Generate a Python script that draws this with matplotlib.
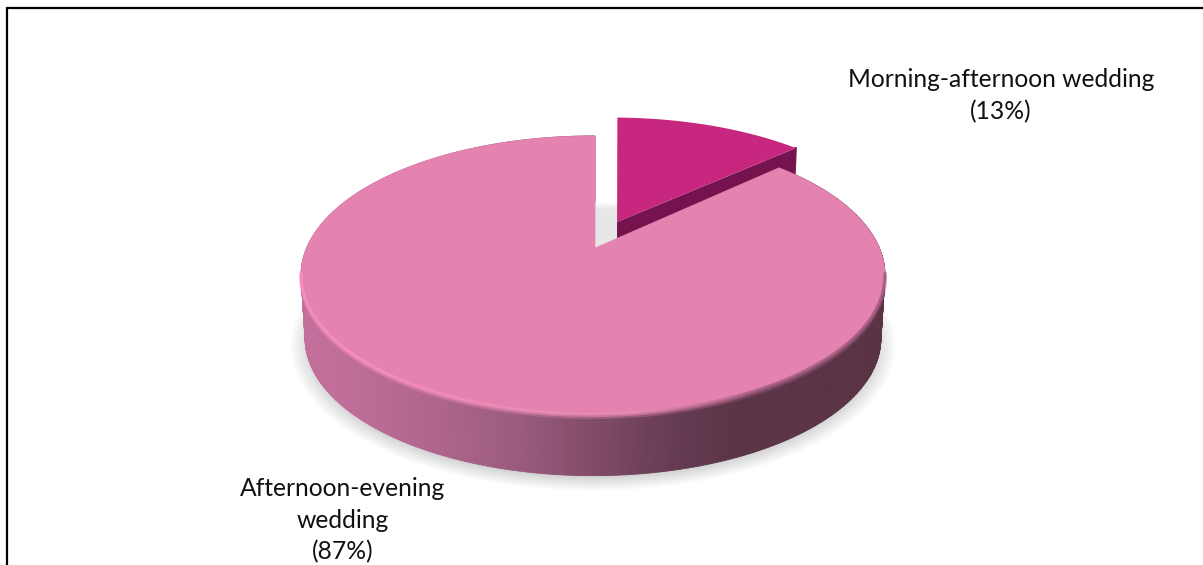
import matplotlib
matplotlib.use("Agg")
import matplotlib.pyplot as plt
from matplotlib.collections import PolyCollection, LineCollection
from matplotlib.colors import to_rgb
from matplotlib.patches import Rectangle
import numpy as np

# parts du diagramme, en %
labels = ["Morning-afternoon\u00a0wedding\n(13%)", "Afternoon-evening\nwedding\n(87%)"]
values = [13, 87]

plt.rcParams['font.family'] = ['Lato', 'DejaVu Sans']

W, H = 1203, 565
fig = plt.figure(figsize=(W/100, H/100), dpi=100)
ax = fig.add_axes([0, 0, 1, 1])
ax.set_xlim(0, W)
ax.set_ylim(H, 0)
ax.axis('off')

# perspective du disque, en pixels
CX, CY = 593, 248
A, B, K = 286.4, 133.8, 0.194
# plan du bas de la tranche
S_BAS, CY_BAS = 0.986, 312
ROT = 0.5       # petit decalage de depart, en degres
ROT_T = 1.0     # idem pour la tranche detachee
EXPLO = 0.22    # ecart de la tranche detachee


def projeter(u, v, s=1.0, cy=CY, cx=CX):
    w = 1 + K*v
    return cx + s*A*u/w, cy - s*B*v/w


def arc(deb, fin, n=200):
    # angles en degres, sens horaire depuis le haut
    t = np.radians(np.linspace(deb, fin, n))
    return np.sin(t), np.cos(t)


def secteur(deb, fin, du=0.0, dv=0.0, apex_dx=0.0):
    u, v = arc(deb, fin)
    x, y = projeter(u+du, v+dv)
    xa, ya = projeter(du, dv)
    return np.column_stack([np.r_[xa+apex_dx, x], np.r_[ya, y]])


def melange(c1, c2, f):
    c1, c2 = np.array(to_rgb(c1)), np.array(to_rgb(c2))
    return c1 + (c2-c1)*f


ang = values[0]*3.6
bis = np.radians(ang/2)
du, dv = EXPLO*np.sin(bis), EXPLO*np.cos(bis)

# ombre portee : tres legere partout, plus marquee sous le disque
bas = Rectangle((0, 262), W, H, transform=ax.transData)
u, v = arc(0, 360, 300)
for i in range(24):
    f = i/23
    sc = 1.05 - 0.075*f
    x, y = projeter(u*sc, v*sc, S_BAS, CY_BAS+5)
    ax.fill(x, y, color='#000000', alpha=0.003, lw=0, zorder=1)
    p = ax.fill(x, y, color='#000000', alpha=0.004, lw=0, zorder=1)[0]
    p.set_clip_path(bas)

# tranche detachee : paroi puis dessus
a_t = ang + ROT_T
xh, yh = projeter(np.sin(np.radians(a_t))+du, np.cos(np.radians(a_t))+dv)
xa, ya = projeter(du, dv)
xb, yb = projeter(np.sin(np.radians(a_t))+du, np.cos(np.radians(a_t))+dv, S_BAS, CY_BAS)
xc, yc = projeter(du, dv, S_BAS, CY_BAS)
ax.fill([xa, xh, xb, xc], [ya, yh, yb, yc], color='#75134f', lw=0, zorder=2)
ax.plot([xh, xb], [yh, yb], color='#7d1655', lw=1.5, zorder=2)
ax.add_patch(plt.Polygon(secteur(ROT_T, a_t, du, dv), closed=True, fc='#c7277e', ec='none', zorder=3))

# paroi du grand secteur, degrade de gauche a droite
pos = [302, 340, 430, 520, 600, 680, 740, 890]
cols = ['#c2709b', '#c06e99', '#b0668c', '#995b7d', '#7f4a65', '#643a50', '#5b3446', '#5a3345']
t = np.linspace(ang+ROT, 360+ROT, 500)
uu, vv = np.sin(np.radians(t)), np.cos(np.radians(t))
xh, yh = projeter(uu, vv)
xb, yb = projeter(uu, vv, S_BAS, CY_BAS)
quads, fc = [], []
for i in range(len(t)-1):
    quads.append([(xh[i], yh[i]), (xh[i+1], yh[i+1]), (xb[i+1], yb[i+1]), (xb[i], yb[i])])
    xm = (xh[i]+xh[i+1])/2
    fc.append([np.interp(xm, pos, [to_rgb(c)[k] for c in cols]) for k in range(3)])
ax.add_collection(PolyCollection(quads, facecolors=fc, edgecolors=fc, linewidths=0.6, zorder=4))

# dessus du grand secteur
DESSUS = '#e583b0'
forme = secteur(ang+ROT, 360+ROT, apex_dx=2)

# biseau du bord : clair a gauche, fondu sombre a droite
segs, lum = [], []
for i in range(len(t)-1):
    if yh[i] < 272:
        continue
    segs.append([(xh[i], yh[i]), (xh[i+1], yh[i+1])])
    xm = xh[i]
    if xm < 640:
        f = np.clip((xm-360)/280, 0, 1)
        lum.append(melange('#f98fbf', '#e88cb4', f))
    else:
        f = np.clip((xm-640)/120, 0, 1)
        lum.append(melange('#e88cb4', '#a65f83', f))
ax.add_patch(plt.Polygon(forme, closed=True, fc=DESSUS, ec=DESSUS, lw=0.5, zorder=5))
for off, lw, al in [(3.0, 3.0, 0.3), (1.4, 2.4, 0.55), (0.0, 2.0, 0.8)]:
    decal = [[(a[0], a[1]+off), (b[0], b[1]+off)] for a, b in segs]
    ax.add_collection(LineCollection(decal, colors=lum, linewidths=lw, alpha=al, capstyle='butt', zorder=6))

# cadre : seulement haut et gauche
ax.plot([7, 7, W], [H, 8, 8], color='black', lw=1.6, solid_joinstyle='miter', zorder=7)

TAILLE = 17.7
ax.text(1001, 87, labels[0].split("\n")[0], ha='center', va='baseline', fontsize=TAILLE, color='#111111', zorder=8)
ax.text(1001, 119, labels[0].split("\n")[1], ha='center', va='baseline', fontsize=TAILLE, color='#111111', zorder=8)
for ligne, yb_txt in zip(labels[1].split("\n"), [496, 528, 559]):
    ax.text(343, yb_txt, ligne, ha='center', va='baseline', fontsize=TAILLE, color='#111111', zorder=8)

fig.savefig("out.png", dpi=100, facecolor='white')
